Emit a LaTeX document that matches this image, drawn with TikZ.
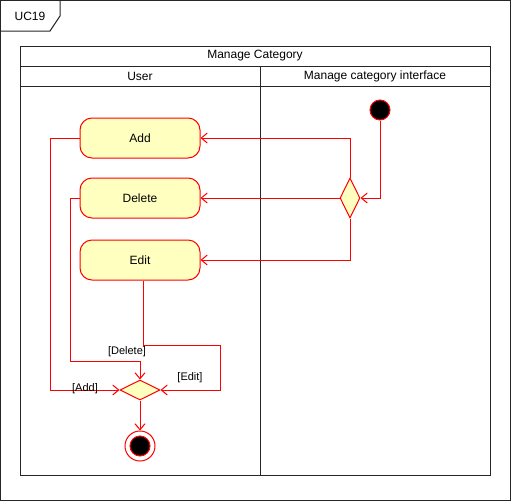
\documentclass[tikz,border=0pt]{standalone}
\usepackage{fontspec}
\setmainfont{Liberation Sans}
\usetikzlibrary{arrows.meta,shapes.geometric}

\definecolor{actfill}{HTML}{FFFFC0}
\definecolor{actline}{HTML}{FF0000}

\begin{document}
\begin{tikzpicture}[x=1pt, y=-1pt, line width=1pt,
        action/.style={draw=actline, fill=actfill, rounded corners=12pt,
            minimum width=120pt, minimum height=40pt, inner sep=0pt,
            font=\fontsize{12}{14}\selectfont},
        choice/.style={diamond, draw=actline, fill=actfill, inner sep=0pt},
        initial/.style={circle, draw=actline, fill=black, minimum size=20pt, inner sep=0pt},
        final/.style={circle, draw=actline, fill=white, minimum size=30pt, inner sep=0pt,
            path picture={\draw[actline, fill=black] (path picture bounding box.center) circle (10pt);}},
        flow/.style={draw=actline, -{Straight Barb[length=6pt,width=10pt]}},
        guard/.style={inner sep=1pt, font=\fontsize{11}{13}\selectfont},
        caption/.style={font=\fontsize{12}{14}\selectfont}]
        \def \lanetop {46}      % Top of swimlane
        \def \lanebottom {475}  % Bottom of swimlane
        \def \lanesplit {260}   % Border between the two lanes
        \useasboundingbox (0,0) rectangle (512,501);
        % frame
        \draw[black!85] (0.5,0.5) rectangle (510.5,500.5);
        \draw[black!85] (0.5,31) -- (50,31) -- (60,16) -- (60,0.5);
        \node[caption] (uc) at (30,16) {UC19};
        % swimlane
        \draw[black!85] (20,\lanetop) rectangle (490,\lanebottom);
        \draw[black!85] (20,\lanetop+20) -- (490,\lanetop+20);
        \draw[black!85] (20,\lanetop+40) -- (490,\lanetop+40);
        \draw[black!85] (\lanesplit,\lanetop+20) -- (\lanesplit,\lanebottom);
        \node[caption] (pool) at (255,\lanetop+10) {Manage Category};
        \node[caption] (userlane) at (140,\lanetop+30) {User};
        \node[caption] (uilane) at (375,\lanetop+30) {Manage category interface};
        % start and choice
        \node[initial] (start) at (380,110) {};
        \node[choice, minimum width=20pt, minimum height=40pt] (fork) at (350,198) {};
        % actions
        \node[action] (add) at (140,138) {Add};
        \node[action] (delete) at (140,198) {Delete};
        \node[action] (edit) at (140,260) {Edit};
        % merge and end
        \node[choice, minimum width=40pt, minimum height=20pt] (join) at (140,390) {};
        \node[final] (stop) at (140,446) {};
        % flows
        \draw[flow] (start.south) |- (fork.east);
        \draw[flow] (fork.north) |- (add.east);
        \draw[flow] (fork.west) -- (delete.east);
        \draw[flow] (fork.south) |- (edit.east);
        \draw[flow] (add.west) -| (50,390) -- (join.west);
        \draw[flow] (delete.west) -| (70,361) -| (join.north);
        \draw[flow] ([xshift=3pt]edit.south) |- (220,345) |- (join.east);
        \draw[flow] (join.south) -- (stop.north);
        % guards
        \node[guard] (addguard) at (85,389) {[Add]};
        \node[guard] (deleteguard) at (127,352) {[Delete]};
        \node[guard] (editguard) at (190,378) {[Edit]};
\end{tikzpicture}
\end{document}
